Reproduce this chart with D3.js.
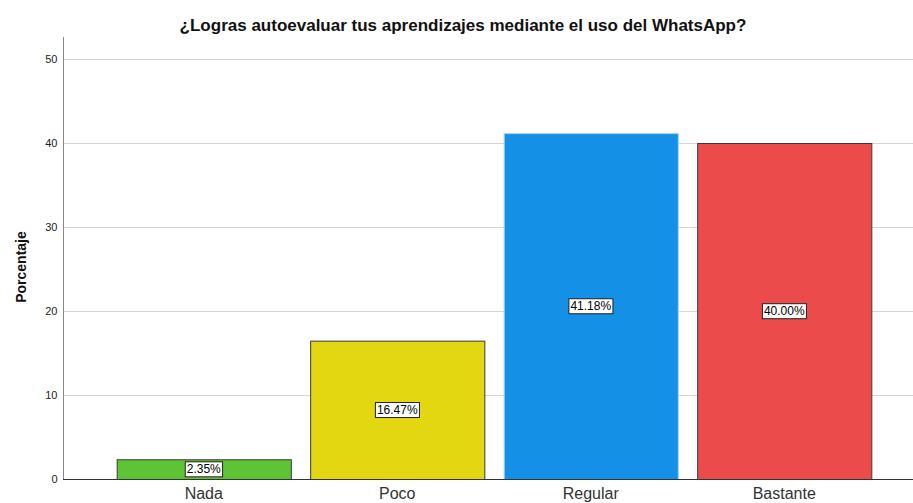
<html lang="es">
<head>
<meta charset="UTF-8"/>
<title>WhatsApp</title>
<script src="https://d3js.org/d3.v7.min.js"></script>
<style>
    body { margin: 0; background: #fff; }
    text { font-family: Arial, "Liberation Sans", sans-serif; }
</style>
</head>
<body>
<script>
    var categories = ["Nada", "Poco", "Regular", "Bastante"];
    var values = [2.35, 16.47, 41.18, 40.00];
    var yTicks = [0, 10, 20, 30, 40, 50];
    var colors = ["#5fc336", "#e3d712", "#1490e6", "#ec4b4c"];
    var strokes = ["#3a3a3a", "#3a3a3a", "#a9d6f7", "#3a3a3a"];

    var w = 913, h = 503;

    var xScale = d3.scaleBand()
        .domain(categories)
        .range([107, 881])
        .paddingInner(0.1)
        .paddingOuter(0.05);

    var yScale = d3.scaleLinear()
        .domain([0, 50])
        .range([479, 59]);

    var svg = d3.select("body").append("svg")
        .attr("width", w)
        .attr("height", h);

    // grid
    svg.selectAll(".grid")
        .data(yTicks.filter(function(d) { return d > 0; }))
        .enter()
        .append("line")
        .attr("x1", 63).attr("x2", w)
        .attr("y1", function(d) { return yScale(d) + 0.5; })
        .attr("y2", function(d) { return yScale(d) + 0.5; })
        .attr("stroke", "#d4d4d4")
        .attr("stroke-width", 1);

    // y axis
    var yAxis = d3.axisLeft(yScale).tickValues(yTicks).tickSize(0).tickPadding(6);
    var gy = svg.append("g")
        .attr("transform", "translate(63.5,0)")
        .call(yAxis);
    gy.select(".domain").remove();
    gy.selectAll("text").attr("font-size", 11).attr("fill", "#222");
    svg.append("line")
        .attr("x1", 63.5).attr("x2", 63.5)
        .attr("y1", 37).attr("y2", 480)
        .attr("stroke", "#888");

    // bars
    svg.selectAll("rect.bar")
        .data(values)
        .enter()
        .append("rect")
        .attr("class", "bar")
        .attr("x", function(d, i) { return xScale(categories[i]) + 0.5; })
        .attr("y", function(d) { return yScale(d) + 0.5; })
        .attr("width", xScale.bandwidth())
        .attr("height", function(d) { return yScale(0) - yScale(d); })
        .attr("fill", function(d, i) { return colors[i]; })
        .attr("stroke", function(d, i) { return strokes[i]; })
        .attr("stroke-width", 1);

    // x axis line
    svg.append("line")
        .attr("x1", 63).attr("x2", w)
        .attr("y1", 479.5).attr("y2", 479.5)
        .attr("stroke", "#333");

    // x axis labels
    var xAxis = d3.axisBottom(xScale).tickSize(0).tickPadding(8);
    var gx = svg.append("g")
        .attr("transform", "translate(0,480)")
        .call(xAxis);
    gx.select(".domain").remove();
    gx.selectAll("text").attr("font-size", 16).attr("fill", "#333");

    // value labels
    var labels = svg.selectAll("g.lab")
        .data(values)
        .enter()
        .append("g")
        .attr("class", "lab")
        .attr("transform", function(d, i) {
            var cx = xScale(categories[i]) + xScale.bandwidth() / 2;
            var cy = (yScale(d) + yScale(0)) / 2;
            return "translate(" + cx + "," + cy + ")";
        });
    labels.append("text")
        .attr("text-anchor", "middle")
        .attr("dy", "0.35em")
        .attr("font-size", 12)
        .attr("fill", "#000")
        .text(function(d) { return d.toFixed(2) + "%"; })
        .each(function() {
            var bb = this.getBBox();
            d3.select(this.parentNode).insert("rect", "text")
                .attr("x", bb.x - 1.5)
                .attr("y", bb.y - 0.5)
                .attr("width", bb.width + 3)
                .attr("height", bb.height + 1)
                .attr("fill", "#fff")
                .attr("stroke", "#222")
                .attr("stroke-width", 1);
        });

    // title
    svg.append("text")
        .attr("x", 463)
        .attr("y", 31)
        .attr("text-anchor", "middle")
        .attr("font-size", 17)
        .attr("font-weight", "bold")
        .attr("fill", "#111")
        .text("¿Logras autoevaluar tus aprendizajes mediante el uso del WhatsApp?");

    // y label
    svg.append("text")
        .attr("transform", "rotate(-90)")
        .attr("x", -267)
        .attr("y", 26)
        .attr("text-anchor", "middle")
        .attr("font-size", 14)
        .attr("font-weight", "bold")
        .attr("fill", "#111")
        .text("Porcentaje");
</script>
</body>
</html>
